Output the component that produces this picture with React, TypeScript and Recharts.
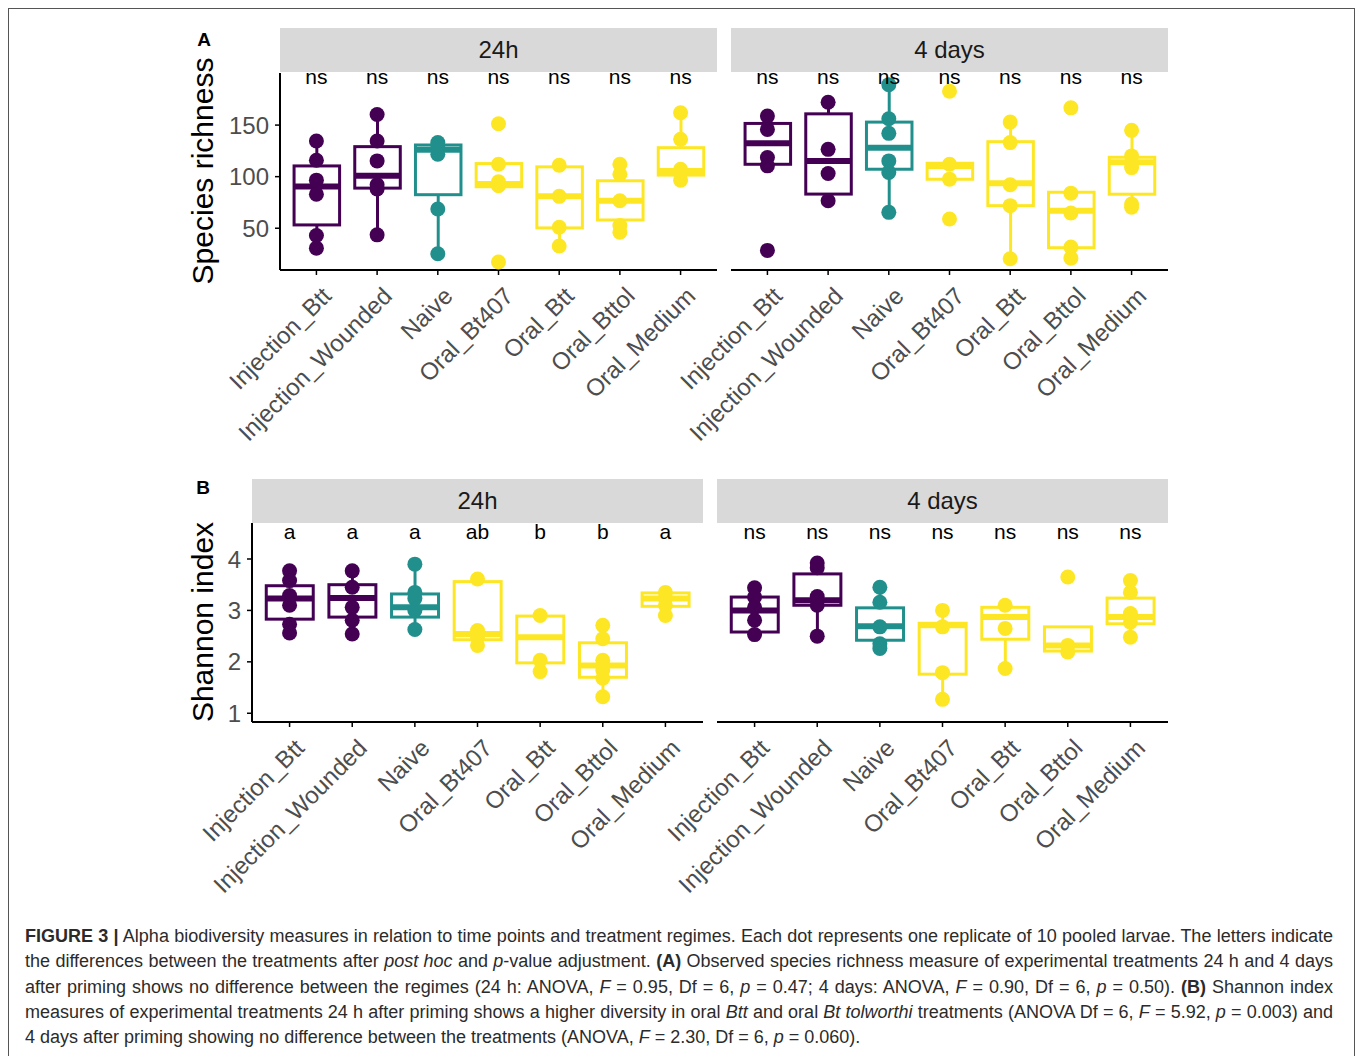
import React from 'react';
import { ComposedChart, Bar, Scatter, XAxis, YAxis } from 'recharts';

const FONT = "'Liberation Sans', Arial, Helvetica, sans-serif";

const treatments = [
  'Injection_Btt',
  'Injection_Wounded',
  'Naive',
  'Oral_Bt407',
  'Oral_Btt',
  'Oral_Bttol',
  'Oral_Medium',
];
const treatmentColors = ['#440154', '#440154', '#21908C', '#FDE725', '#FDE725', '#FDE725', '#FDE725'];

// Box summaries per treatment: [lower whisker, Q1, median, Q3, upper whisker]
const richness24hBoxes = [
  [30.7, 53.2, 90.5, 110.4, 134.6],
  [43.6, 88.9, 100.8, 129.1, 160.3],
  [25.3, 82.5, 126.0, 130.7, 133.0],
  [90.2, 90.2, 93.0, 112.7, 112.7],
  [32.7, 50.3, 80.9, 109.5, 111.0],
  [46.2, 58.0, 76.7, 96.0, 112.0],
  [96.6, 101.5, 105.6, 128.1, 161.9],
];
const richness24hPoints = [
  [134.6, 115.9, 96.6, 83.0, 43.0, 30.7],
  [160.3, 134.6, 115.3, 92.1, 88.0, 43.6],
  [133.0, 130.0, 121.7, 68.7, 25.3],
  [151.3, 112.0, 95.0, 91.2, 17.2],
  [111.0, 80.9, 51.0, 32.7],
  [112.0, 102.4, 76.7, 52.6, 46.2],
  [161.9, 136.2, 107.2, 96.6],
];

const richness4dBoxes = [
  [110.5, 112.0, 132.3, 151.6, 158.7],
  [76.7, 83.1, 115.3, 160.9, 172.2],
  [65.4, 107.2, 128.1, 152.9, 189.2],
  [97.5, 97.5, 110.3, 113.0, 113.0],
  [20.4, 71.9, 93.6, 133.9, 152.9],
  [21.0, 31.1, 67.0, 84.9, 84.9],
  [70.3, 83.0, 114.0, 118.8, 144.9],
];
const richness4dPoints = [
  [158.7, 145.8, 118.5, 110.5, 28.5],
  [172.2, 126.5, 103.0, 76.7],
  [189.2, 156.1, 142.0, 115.3, 104.0, 65.4],
  [182.8, 112.0, 97.6, 59.0],
  [152.9, 133.0, 92.1, 71.9, 20.4],
  [166.7, 84.0, 64.8, 31.7, 21.0],
  [144.9, 120.1, 108.8, 73.5, 70.3],
];

const shannon24hBoxes = [
  [2.56, 2.83, 3.23, 3.48, 3.77],
  [2.54, 2.87, 3.24, 3.5, 3.77],
  [2.63, 2.87, 3.06, 3.32, 3.9],
  [2.32, 2.43, 2.54, 3.56, 3.61],
  [1.81, 1.98, 2.48, 2.89, 2.9],
  [1.32, 1.7, 1.93, 2.37, 2.71],
  [2.9, 3.08, 3.23, 3.34, 3.35],
];
const shannon24hPoints = [
  [3.77, 3.58, 3.29, 3.1, 2.73, 2.56],
  [3.77, 3.45, 3.06, 2.81, 2.54],
  [3.9, 3.35, 3.23, 3.0, 2.63],
  [3.61, 2.61, 2.48, 2.32],
  [2.9, 2.03, 1.81],
  [2.71, 2.45, 2.03, 1.84, 1.68, 1.32],
  [3.35, 3.23, 3.1, 2.9],
];

const shannon4dBoxes = [
  [2.53, 2.58, 3.0, 3.26, 3.44],
  [2.5, 3.1, 3.2, 3.71, 3.92],
  [2.26, 2.42, 2.69, 3.05, 3.45],
  [1.27, 1.76, 2.71, 2.75, 3.0],
  [1.87, 2.44, 2.87, 3.06, 3.1],
  [2.19, 2.21, 2.32, 2.68, 2.68],
  [2.48, 2.74, 2.87, 3.24, 3.58],
];
const shannon4dPoints = [
  [3.44, 3.26, 3.06, 2.81, 2.53],
  [3.92, 3.83, 3.27, 3.1, 2.5],
  [3.45, 3.16, 2.68, 2.35, 2.26],
  [3.0, 2.68, 1.79, 1.27],
  [3.1, 2.65, 1.87],
  [3.65, 2.32, 2.19],
  [3.58, 3.35, 2.94, 2.77, 2.48],
];

const richnessLetters24h = ['ns', 'ns', 'ns', 'ns', 'ns', 'ns', 'ns'];
const richnessLetters4d = ['ns', 'ns', 'ns', 'ns', 'ns', 'ns', 'ns'];
const shannonLetters24h = ['a', 'a', 'a', 'ab', 'b', 'b', 'a'];
const shannonLetters4d = ['ns', 'ns', 'ns', 'ns', 'ns', 'ns', 'ns'];

const richnessTicks = [50, 100, 150];
const shannonTicks = [1, 2, 3, 4];
const richnessDomain: [number, number] = [9.5, 200.5];
const shannonDomain: [number, number] = [0.83, 4.7];
const richnessLabelY = 197;
const shannonLabelY = 4.53;

function BoxShape(props: any) {
  const { x, y, width, height, payload } = props;
  const { lo, q1, med, q3, hi, color } = payload;
  const k = hi > lo ? height / (hi - lo) : 0;
  const py = (v: number) => y + (hi - v) * k;
  const cx = x + width / 2;
  return (
    <g>
      <line x1={cx} x2={cx} y1={py(hi)} y2={py(q3)} stroke={color} strokeWidth={3} />
      <line x1={cx} x2={cx} y1={py(q1)} y2={py(lo)} stroke={color} strokeWidth={3} />
      <rect x={x} y={py(q3)} width={width} height={Math.max(0, py(q1) - py(q3))} fill="#ffffff" stroke={color} strokeWidth={3} />
      <line x1={x} x2={x + width} y1={py(med)} y2={py(med)} stroke={color} strokeWidth={6} />
    </g>
  );
}

function XTick(props: any) {
  const { x, y, payload } = props;
  return (
    <g transform={`translate(${x},${y})`}>
      <text transform="rotate(-45)" textAnchor="end" dy={26} dx={-3} fontSize={24} fill="#4D4D4D" fontFamily={FONT}>
        {payload.value}
      </text>
    </g>
  );
}

type FacetProps = {
  plotLeft: number;
  plotTop: number;
  plotW: number;
  plotH: number;
  domain: [number, number];
  ticks: number[];
  showY: boolean;
  boxes: number[][];
  points: number[][];
  letters: string[];
  labelY: number;
};

const LEFT_PAD = 190;
const Y_AXIS_W = 90;
const X_AXIS_H = 200;

function Facet({ plotLeft, plotTop, plotW, plotH, domain, ticks, showY, boxes, points, letters, labelY }: FacetProps) {
  const boxRows = treatments.map((t, i) => ({
    treatment: t,
    lo: boxes[i][0],
    q1: boxes[i][1],
    med: boxes[i][2],
    q3: boxes[i][3],
    hi: boxes[i][4],
    color: treatmentColors[i],
  }));
  const pointRows = treatments.flatMap((t, i) => points[i].map((v) => ({ treatment: t, value: v, color: treatmentColors[i] })));
  const letterRows = treatments.map((t, i) => ({ treatment: t, value: labelY, text: letters[i] }));
  const band = plotW / 7.2;
  const pad = band * 0.1;
  return (
    <div style={{ position: 'absolute', left: plotLeft - LEFT_PAD, top: plotTop - 20 }}>
      <ComposedChart
        width={LEFT_PAD + plotW + 20}
        height={plotH + X_AXIS_H + 20}
        data={boxRows}
        margin={{ top: 20, right: 20, bottom: 0, left: showY ? LEFT_PAD - Y_AXIS_W : LEFT_PAD }}
      >
        <XAxis
          dataKey="treatment"
          type="category"
          allowDuplicatedCategory={false}
          padding={{ left: pad, right: pad }}
          height={X_AXIS_H}
          tickSize={5}
          tickMargin={2}
          interval={0}
          axisLine={{ stroke: '#000', strokeWidth: 2 }}
          tickLine={{ stroke: '#000', strokeWidth: 1.5 }}
          tick={<XTick />}
        />
        <YAxis
          type="number"
          domain={domain}
          ticks={ticks}
          hide={!showY}
          width={Y_AXIS_W}
          tickSize={5}
          tickMargin={6}
          axisLine={{ stroke: '#000', strokeWidth: 2 }}
          tickLine={{ stroke: '#000', strokeWidth: 1.5 }}
          tick={{ fontSize: 24, fill: '#4D4D4D', fontFamily: FONT }}
        />
        <Bar
          dataKey={(d: any) => [d.lo, d.hi]}
          barSize={band * 0.75}
          shape={<BoxShape />}
          activeBar={false}
          isAnimationActive={false}
        />
        <Scatter
          data={pointRows}
          dataKey="value"
          isAnimationActive={false}
          shape={(p: any) => <circle cx={p.cx} cy={p.cy} r={7.5} fill={p.payload.color} />}
        />
        <Scatter
          data={letterRows}
          dataKey="value"
          isAnimationActive={false}
          shape={(p: any) => (
            <text x={p.cx} y={p.cy} textAnchor="middle" dominantBaseline="central" fontSize={21} fill="#000" fontFamily={FONT}>
              {p.payload.text}
            </text>
          )}
        />
      </ComposedChart>
    </div>
  );
}

function Strip({ left, top, width, label }: { left: number; top: number; width: number; label: string }) {
  return (
    <div
      style={{
        position: 'absolute',
        left,
        top,
        width,
        height: 44,
        background: '#D9D9D9',
        display: 'flex',
        alignItems: 'center',
        justifyContent: 'center',
        fontSize: 24,
        color: '#1A1A1A',
        fontFamily: FONT,
      }}
    >
      {label}
    </div>
  );
}

function AxisTitle({ cx, cy, text }: { cx: number; cy: number; text: string }) {
  return (
    <div
      style={{
        position: 'absolute',
        left: cx,
        top: cy,
        transform: 'translate(-50%, -50%) rotate(-90deg)',
        whiteSpace: 'nowrap',
        fontSize: 30,
        color: '#000',
        fontFamily: FONT,
      }}
    >
      {text}
    </div>
  );
}

function PanelLetter({ cx, cy, text }: { cx: number; cy: number; text: string }) {
  return (
    <div
      style={{
        position: 'absolute',
        left: cx,
        top: cy,
        transform: 'translate(-50%, -50%)',
        fontSize: 19,
        fontWeight: 'bold',
        color: '#000',
        fontFamily: FONT,
      }}
    >
      {text}
    </div>
  );
}

const captionLine: React.CSSProperties = {
  whiteSpace: 'nowrap',
  height: 25.3,
  lineHeight: '25.3px',
};
const justified: React.CSSProperties = { ...captionLine, textAlign: 'justify', textAlignLast: 'justify' };

function Caption() {
  return (
    <div
      style={{
        position: 'absolute',
        left: 25,
        top: 924,
        width: 1308,
        fontSize: 18,
        color: '#2b2b2b',
        fontFamily: FONT,
      }}
    >
      <div style={justified}>
        <b>FIGURE 3 |</b> Alpha biodiversity measures in relation to time points and treatment regimes. Each dot represents one replicate of 10 pooled larvae. The letters indicate
      </div>
      <div style={justified}>
        the differences between the treatments after <i>post hoc</i> and <i>p</i>-value adjustment. <b>(A)</b> Observed species richness measure of experimental treatments 24 h and 4 days
      </div>
      <div style={justified}>
        after priming shows no difference between the regimes (24 h: ANOVA, <i>F</i> = 0.95, Df = 6, <i>p</i> = 0.47; 4 days: ANOVA, <i>F</i> = 0.90, Df = 6, <i>p</i> = 0.50). <b>(B)</b> Shannon index
      </div>
      <div style={justified}>
        measures of experimental treatments 24 h after priming shows a higher diversity in oral <i>Btt</i> and oral <i>Bt tolworthi</i> treatments (ANOVA Df = 6, <i>F</i> = 5.92, <i>p</i> = 0.003) and
      </div>
      <div style={captionLine}>
        4 days after priming showing no difference between the treatments (ANOVA, <i>F</i> = 2.30, Df = 6, <i>p</i> = 0.060).
      </div>
    </div>
  );
}

export default function App() {
  return (
    <div style={{ position: 'relative', width: 1358, height: 1056, overflow: 'hidden', background: '#fff', fontFamily: FONT }}>
      <style>{'body{margin:0;}'}</style>
      <div style={{ position: 'absolute', left: 8, top: 8, width: 1347, height: 1080, border: '1px solid #555', boxSizing: 'border-box' }} />

      <PanelLetter cx={204} cy={40} text="A" />
      <AxisTitle cx={203} cy={171} text="Species richness" />
      <Strip left={280} top={28} width={437} label="24h" />
      <Strip left={731} top={28} width={437} label="4 days" />
      <Facet plotLeft={280} plotTop={73} plotW={437} plotH={197} domain={richnessDomain} ticks={richnessTicks} showY boxes={richness24hBoxes} points={richness24hPoints} letters={richnessLetters24h} labelY={richnessLabelY} />
      <Facet plotLeft={731} plotTop={73} plotW={437} plotH={197} domain={richnessDomain} ticks={richnessTicks} showY={false} boxes={richness4dBoxes} points={richness4dPoints} letters={richnessLetters4d} labelY={richnessLabelY} />

      <PanelLetter cx={203} cy={488} text="B" />
      <AxisTitle cx={203} cy={622} text="Shannon index" />
      <Strip left={252} top={479} width={451} label="24h" />
      <Strip left={717} top={479} width={451} label="4 days" />
      <Facet plotLeft={252} plotTop={523} plotW={451} plotH={199} domain={shannonDomain} ticks={shannonTicks} showY boxes={shannon24hBoxes} points={shannon24hPoints} letters={shannonLetters24h} labelY={shannonLabelY} />
      <Facet plotLeft={717} plotTop={523} plotW={451} plotH={199} domain={shannonDomain} ticks={shannonTicks} showY={false} boxes={shannon4dBoxes} points={shannon4dPoints} letters={shannonLetters4d} labelY={shannonLabelY} />

      <Caption />
    </div>
  );
}
